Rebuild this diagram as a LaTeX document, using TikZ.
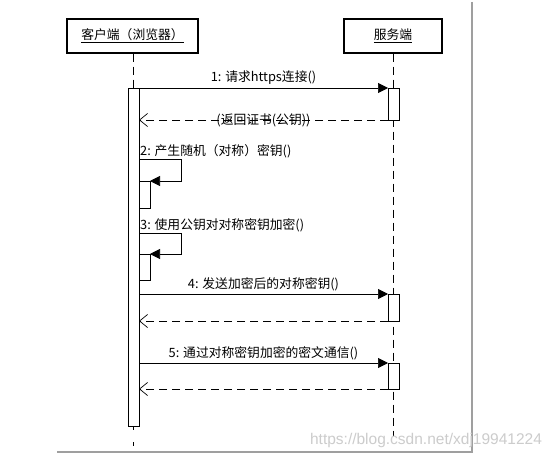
\documentclass[tikz,border=0pt]{standalone}
\usepackage{fontspec}
\newfontfamily\cjk{Noto Sans CJK SC}
\newfontfamily\wmfont{Liberation Sans}
\usetikzlibrary{arrows.meta}

\tikzset{
  head/.style={draw, line width=1.4pt, minimum height=34pt, inner sep=0pt,
    font=\cjk\fontsize{12.8}{14}\selectfont},
  act/.style={draw, fill=white, line width=0.7pt},
  life/.style={dash pattern=on 8pt off 5pt, line width=0.7pt},
  call/.style={line width=0.7pt, -{Triangle[length=10pt,width=10pt]}},
  reply/.style={line width=0.7pt, dash pattern=on 8pt off 5pt,
    -{Straight Barb[length=8pt,width=13pt]}},
  msg/.style={font=\cjk\fontsize{12.8}{14}\selectfont, inner sep=1pt},
  shade/.style={line width=2pt, gray!75}
}

\begin{document}
\begin{tikzpicture}[x=1pt,y=-1pt]
  \useasboundingbox (0,0) rectangle (554,460);
  \fill[white] (0,0) rectangle (554,460);

  % frame shadow
  \draw[shade] (472,2) -- (472,452) -- (57,452);

  % lifeline heads
  \node[head, minimum width=131pt] (client) at (132.5,36) {\underline{客户端（浏览器）}};
  \node[head, minimum width=98pt] (server) at (393,36) {\underline{服务端}};

  % lifelines
  \coordinate (cend) at (133,446);
  \coordinate (send) at (393,436);
  \draw[life] (client.south -| 133,0) -- (133,88);
  \draw[dash pattern=on 4pt off 12pt, line width=0.7pt] (133,426) -- (cend);
  \draw[life] (server.south) -- (send);

  % activation boxes
  \draw[act] (128,88) rectangle (139,426);
  \draw[act] (388,88) rectangle (399,120);
  \draw[act] (139,181) rectangle (150,208);
  \draw[act] (139,254) rectangle (150,280);
  \draw[act] (388,294) rectangle (399,321);
  \draw[act] (388,363) rectangle (399,389);

  % message 1
  \coordinate (c1) at (139,88);
  \coordinate (s1) at (388,88);
  \draw[call] (c1) -- (s1) node[midway, above=2pt, msg] {1: 请求https连接()};
  \coordinate (s1r) at (388,120);
  \coordinate (c1r) at (139,120);
  \draw[reply] (s1r) -- (c1r) node[midway, msg] {(返回证书(公钥))};

  % message 2 (self)
  \coordinate (c2) at (139,159);
  \coordinate (c2b) at (150,181);
  \node[msg, anchor=south west] (m2) at (c2) {2: 产生随机（对称）密钥()};
  \draw[call] (c2) -- (181,159) -- (181,181) -- (c2b);

  % message 3 (self)
  \coordinate (c3) at (139,233);
  \coordinate (c3b) at (150,254);
  \node[msg, anchor=south west] (m3) at (c3) {3: 使用公钥对对称密钥加密()};
  \draw[call] (c3) -- (181,233) -- (181,254) -- (c3b);

  % message 4
  \coordinate (c4) at (139,294);
  \coordinate (s4) at (388,294);
  \draw[call] (c4) -- (s4) node[midway, above=2pt, msg] {4: 发送加密后的对称密钥()};
  \coordinate (s4r) at (388,321);
  \coordinate (c4r) at (139,321);
  \draw[reply] (s4r) -- (c4r);

  % message 5
  \coordinate (c5) at (139,363);
  \coordinate (s5) at (388,363);
  \draw[call] (c5) -- (s5) node[midway, above=2pt, msg] {5: 通过对称密钥加密的密文通信()};
  \coordinate (s5r) at (388,389);
  \coordinate (c5r) at (139,389);
  \draw[reply] (s5r) -- (c5r);

  % watermark
  \node[font=\wmfont\fontsize{15.5}{17}\selectfont, text=gray!40, inner sep=0pt] (wm) at (426,440) {https://blog.csdn.net/xdj19941224};
\end{tikzpicture}
\end{document}
